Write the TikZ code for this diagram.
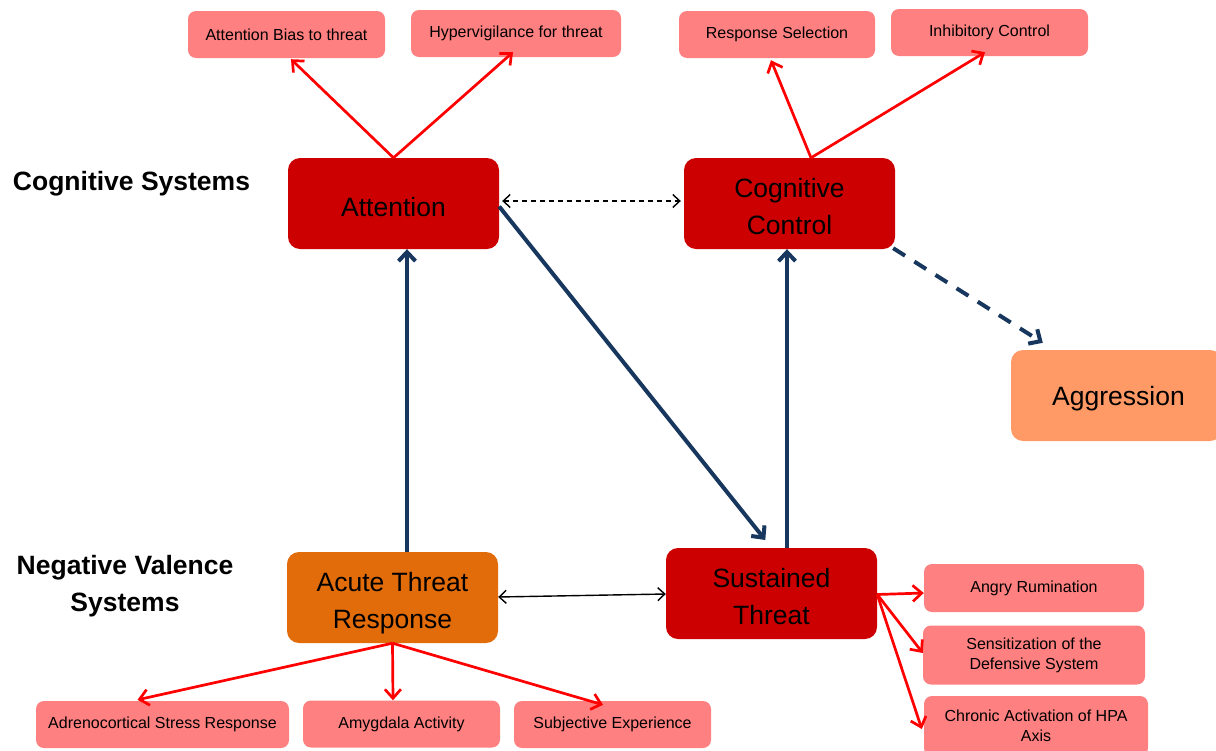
\documentclass[tikz,border=0pt]{standalone}
\usepackage{fontspec}
\setmainfont{Liberation Sans}
\usetikzlibrary{arrows.meta}
\definecolor{cred}{HTML}{CC0000}
\definecolor{pinkc}{HTML}{FF8080}
\definecolor{orangec}{HTML}{E36C0A}
\definecolor{aggc}{HTML}{FF9A66}
\definecolor{arrred}{HTML}{FF0000}
\definecolor{navy}{HTML}{17375E}
\begin{document}
\begin{tikzpicture}[x=1pt,y=-1pt,
  bigbox/.style={rounded corners=12pt, minimum width=211pt, minimum height=91pt, inner sep=0pt},
  boxtext/.style={align=center, font=\fontsize{26.5}{37}\selectfont, text=black, yshift=-3.5pt},
  smallbox/.style={rounded corners=8pt, fill=pinkc, minimum height=47pt, inner sep=0pt, align=center, font=\fontsize{16}{20}\selectfont, text=black},
  grouplabel/.style={align=center, font=\bfseries\fontsize{26.5}{37}\selectfont},
  redarr/.style={draw=arrred, line width=2.7pt, -{Straight Barb[length=9pt,width=16pt]}},
  bluearr/.style={draw=navy, line width=4pt, -{Straight Barb[length=9pt,width=17pt]}},
  bluedash/.style={draw=navy, line width=4pt, dash pattern=on 14pt off 11pt, -{Straight Barb[length=9pt,width=17pt]}},
  blackarr/.style={draw=black, line width=1.4pt, {Straight Barb[length=7pt,width=13pt]}-{Straight Barb[length=7pt,width=13pt]}},
  blackdash/.style={draw=black, line width=1.4pt, dash pattern=on 5pt off 4pt, {Straight Barb[length=7pt,width=13pt]}-{Straight Barb[length=7pt,width=13pt]}}
]
\useasboundingbox (0,0) rectangle (1216,750);
\clip (0,0) rectangle (1216,750);

% group labels
\node[grouplabel] (cogsys) at (131.5,184) {Cognitive Systems};
\node[grouplabel] (negsys) at (125,586) {Negative Valence\\Systems};

% main boxes
\node[bigbox, fill=cred, label={[boxtext]center:Attention}] (att) at (393.5,203.5) {};
\node[bigbox, fill=cred, label={[boxtext]center:{Cognitive\\Control}}] (cog) at (789.5,203.5) {};
\node[bigbox, fill=aggc, label={[boxtext, xshift=2pt]center:Aggression}] (agg) at (1116.5,395.5) {};
\node[bigbox, fill=orangec, label={[boxtext, yshift=-2pt]center:{Acute Threat\\Response}}] (acu) at (392.5,597.5) {};
\node[bigbox, fill=cred, label={[boxtext]center:{Sustained\\Threat}}] (sus) at (771.5,593.5) {};

% small boxes
\node[smallbox, minimum width=197pt] (bias) at (286.5,34.5) {Attention Bias to threat};
\node[smallbox, minimum width=210pt] (hyp) at (516,33.5) {Hypervigilance for threat};
\node[smallbox, minimum width=196pt] (resp) at (777,34.5) {Response Selection};
\node[smallbox, minimum width=197pt] (inh) at (989.5,32.5) {Inhibitory Control};
\node[smallbox, minimum width=220pt, minimum height=48pt] (ang) at (1034,588) {Angry Rumination};
\node[smallbox, minimum width=222pt, minimum height=59pt] (sen) at (1034,655) {Sensitization of the\\Defensive System};
\node[smallbox, minimum width=224pt, minimum height=60pt] (chr) at (1036,726) {Chronic Activation of HPA\\Axis};
\node[smallbox, minimum width=253pt] (adr) at (162.5,724.5) {Adrenocortical Stress Response};
\node[smallbox, minimum width=197pt] (amy) at (401.5,724) {Amygdala Activity};
\node[smallbox, minimum width=197pt] (sub) at (612.5,724.5) {Subjective Experience};

% red arrows
\draw[redarr] (att.north) -- ([xshift=4.5pt,yshift=-1pt]bias.south);
\draw[redarr] (att.north) -- ([xshift=-3pt,yshift=5pt]hyp.south);
\draw[redarr] ([xshift=21.5pt]cog.north) -- ([xshift=-6pt,yshift=-2pt]resp.south);
\draw[redarr] ([xshift=21.5pt]cog.north) -- ([xshift=-4.5pt,yshift=4pt]inh.south);
\draw[redarr] (acu.south) -- ([xshift=-25pt,yshift=1pt]adr.north);
\draw[redarr] (acu.south) -- ([xshift=-8.5pt]amy.north);
\draw[redarr] (acu.south) -- ([xshift=-9.5pt,yshift=-4pt]sub.north);
\draw[redarr] ([yshift=-1pt]sus.east) -- ([yshift=-5pt]ang.west);
\draw[redarr] ([yshift=-1pt]sus.east) -- ([yshift=2pt]sen.west);
\draw[redarr] ([yshift=-1pt]sus.east) -- ([xshift=-2pt,yshift=-3pt]chr.west);

% blue arrows
\draw[bluearr, shorten >=10pt] ([yshift=-3pt]att.east) -- (sus.north);
\draw[bluearr] ([xshift=14.5pt]acu.north) -- ([xshift=14.5pt]acu.north |- att.south);
\draw[bluearr] ([xshift=15.5pt]sus.north) -- ([xshift=15.5pt]sus.north |- cog.south);
\draw[bluedash] ([xshift=-2pt,yshift=1pt]cog.south east) -- ([xshift=32pt,yshift=7pt]agg.north west);

% black arrows
\draw[blackdash, shorten <=3pt, shorten >=3pt] ([yshift=2.5pt]att.east) -- ([yshift=2.5pt]cog.west);
\draw[blackarr] ([yshift=0.5pt]acu.east) -- ([yshift=-0.5pt]sus.west);
\end{tikzpicture}
\end{document}
